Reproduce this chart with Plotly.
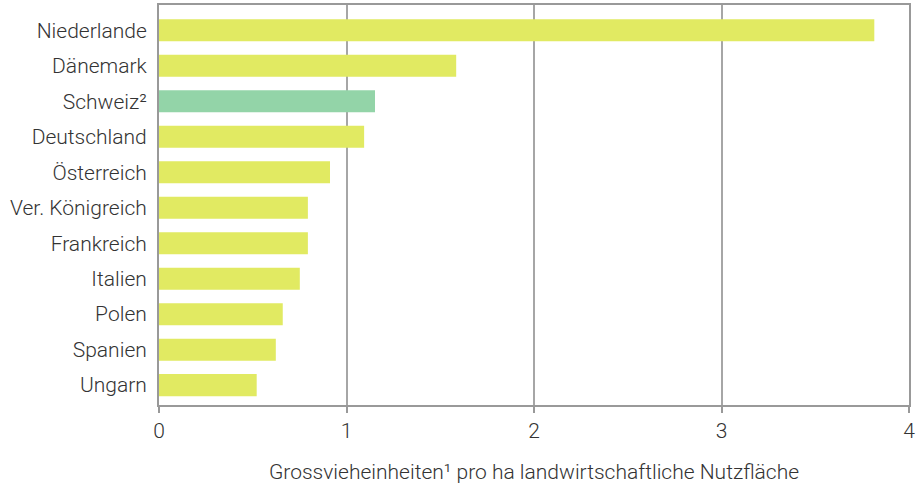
import plotly.graph_objects as go

countries = ["Niederlande", "Dänemark", "Schweiz²", "Deutschland", "Österreich",
             "Ver. Königreich", "Frankreich", "Italien", "Polen", "Spanien", "Ungarn"]
values = [3.815, 1.585, 1.152, 1.094, 0.912, 0.794, 0.794, 0.751, 0.660, 0.623, 0.521]
highlight = "Schweiz²"
x_ticks = [0, 1, 2, 3, 4]
x_title = "Grossvieheinheiten¹ pro ha landwirtschaftliche Nutzfläche"

YELLOW = "#e1ea62"
GREEN = "#93d4a8"
colors = [GREEN if c == highlight else YELLOW for c in countries]

cats = countries[::-1]
vals = values[::-1]
cols = colors[::-1]

fig = go.Figure(go.Bar(
    x=vals, y=list(range(len(cats))), orientation="h",
    marker=dict(color=cols, line=dict(width=0)),
    width=0.62, hoverinfo="skip",
))

FAM = "Roboto"
TXT = "#333333"
fnt = dict(family=FAM, size=21, color=TXT, weight=300)

fig.update_layout(
    width=917, height=484,
    margin=dict(l=159, r=8, t=5, b=79),
    plot_bgcolor="white", paper_bgcolor="white",
    showlegend=False,
    font=fnt,
    xaxis=dict(
        range=[0, 4], tickvals=x_ticks, ticktext=[str(t) for t in x_ticks],
        showgrid=True, gridcolor="#a6a6a6", gridwidth=1.5,
        showline=True, linecolor="#999999", linewidth=2, mirror=True,
        ticks="outside", ticklen=6, tickcolor="#999999", tickwidth=1.5,
        zeroline=False, automargin=False,
        title=dict(text=x_title, font=fnt, standoff=23),
        tickfont=fnt,
    ),
    yaxis=dict(
        range=[-0.56, 10.71], tickvals=list(range(len(cats))), ticktext=cats,
        showgrid=False, showline=True, linecolor="#999999", linewidth=2, mirror=True,
        ticks="outside", ticklen=6, tickcolor="rgba(0,0,0,0)", zeroline=False, automargin=False,
        tickfont=fnt,
    ),
)

fig.write_html("out.html", config={"displayModeBar": False},
               post_script="document.body.style.margin='0px';")
